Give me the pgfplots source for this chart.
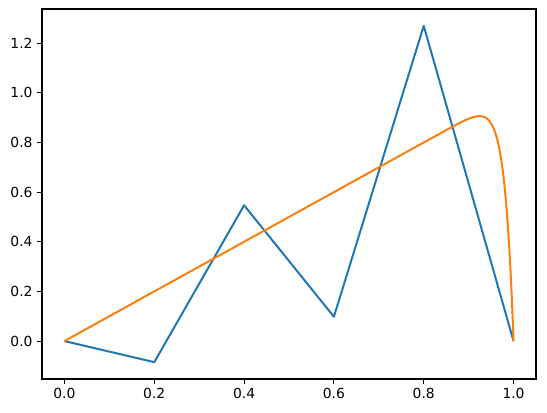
\documentclass[border=0pt]{standalone}
\usepackage{pgfplots}
\pgfplotsset{compat=1.18}
\usepackage{fontspec}
\setmainfont{DejaVu Sans}
\definecolor{mplblue}{HTML}{1F77B4}
\definecolor{mplorange}{HTML}{FF7F0E}
\begin{document}
\begin{tikzpicture}
\begin{axis}[
    scale only axis,
    width=370.5pt, height=277.5pt,
    xmin=-0.05, xmax=1.05,
    ymin=-0.1528, ymax=1.3378,
    xtick={0,0.2,...,1.0},
    ytick={0,0.2,...,1.2},
    xtick pos=left, ytick pos=left,
    tick align=outside,
    major tick length=3.6pt,
    every tick/.style={black, line width=0.8pt},
    axis line style={line width=0.8pt},
    ticklabel style={font=\fontsize{10.4}{12}\selectfont},
    /pgf/number format/.cd, fixed, fixed zerofill, precision=1, assume math mode=true,
]
\addplot[mplblue, line width=1.5pt, line join=round] coordinates {
    (0.0,0.0) (0.2,-0.085) (0.4,0.547) (0.6,0.098) (0.8,1.27) (1.0,0.0)
};
\addplot[mplorange, line width=1.5pt, line join=round] coordinates {
    (0.0,0.0) (0.2,0.2) (0.4,0.4) (0.6,0.6) (0.8,0.8) (0.85,0.8497)
    (0.86,0.8595) (0.87,0.8692) (0.88,0.8785) (0.89,0.8874) (0.9,0.8954)
    (0.91,0.9019) (0.915,0.9042) (0.92,0.9057) (0.925,0.9062) (0.93,0.9053)
    (0.935,0.9025) (0.94,0.8974) (0.945,0.8891) (0.95,0.8769) (0.9525,0.8689)
    (0.955,0.8595) (0.9575,0.8484) (0.96,0.8353) (0.9625,0.8202) (0.965,0.8025)
    (0.9675,0.7820) (0.97,0.7584) (0.9725,0.7313) (0.975,0.7000) (0.9775,0.6642)
    (0.98,0.6231) (0.9825,0.5761) (0.985,0.5223) (0.9875,0.4610) (0.99,0.3911)
    (0.993,0.2941) (0.995,0.2206) (0.996,0.1809) (0.998,0.0951) (0.999,0.0487)
    (1.0,0.0)
};
\end{axis}
\pgfresetboundingbox
\path[use as bounding box] ([shift={(-31.5pt,-25.5pt)}]current axis.south west)
    rectangle ([shift={(8.25pt,6.75pt)}]current axis.north east);
\end{tikzpicture}
\end{document}
